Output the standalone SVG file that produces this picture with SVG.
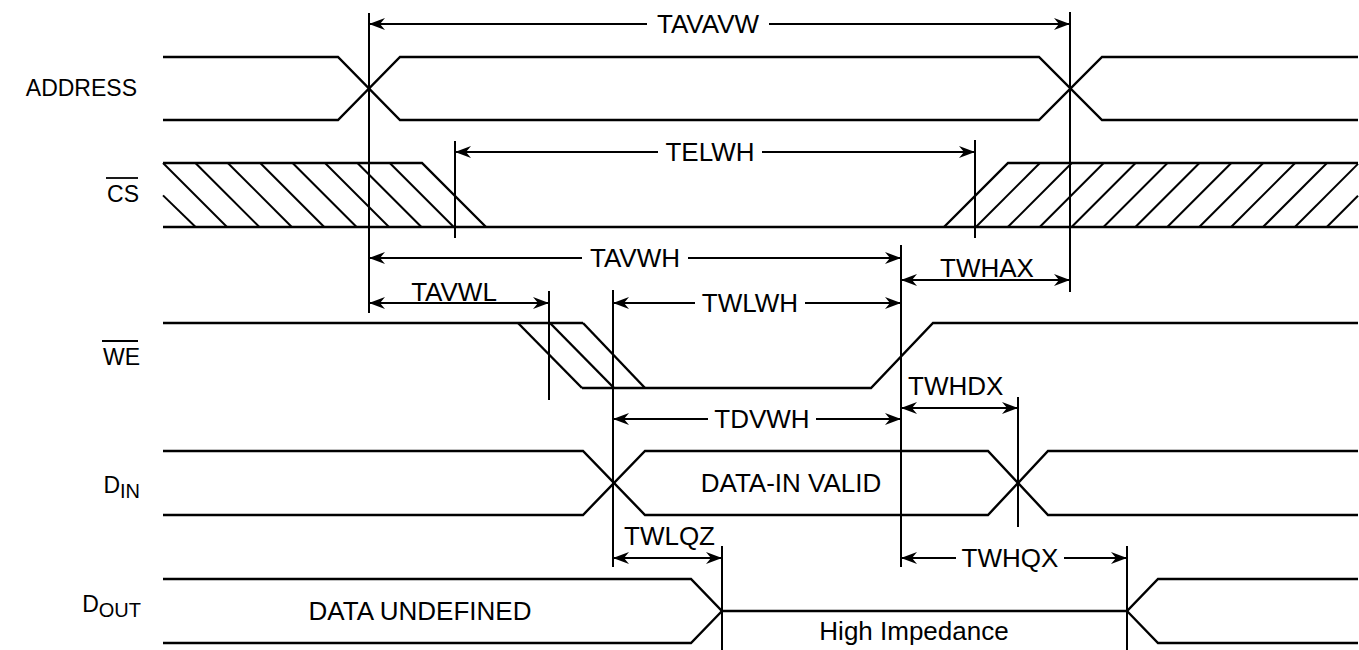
<svg xmlns="http://www.w3.org/2000/svg" width="1359" height="650" viewBox="0 0 1359 650">
<defs>
<style>
.sig{fill:none;stroke:#000;stroke-width:2.4;stroke-linejoin:miter}
.hat{fill:none;stroke:#000;stroke-width:2}
.vl{stroke:#000;stroke-width:2;fill:none}
.dim{stroke:#000;stroke-width:2;fill:none}
.a1{marker-start:url(#ah)}
.a2{marker-end:url(#ah)}
.lab{font-family:"Liberation Sans",Arial,Helvetica,sans-serif;font-size:26px;fill:#000}
.name{font-family:"Liberation Sans",Arial,Helvetica,sans-serif;font-size:23px;fill:#000}
.mid{text-anchor:middle}
.end{text-anchor:end}
</style>
<marker id="ah" viewBox="-17 -7 18 14" refX="0" refY="0" markerWidth="18" markerHeight="14" markerUnits="userSpaceOnUse" orient="auto-start-reverse">
<path d="M0,0 L-16,-6 L-11,0 L-16,6 Z" fill="#000"/>
</marker>
</defs>
<rect width="1359" height="650" fill="#fff"/>

<g id="sig-address">
<text class="name end" x="137" y="96">ADDRESS</text>
<path class="sig" d="M163,57 H338 L400,120 H1039 L1102,57 H1358"/>
<path class="sig" d="M163,120 H338 L400,57 H1039 L1102,120 H1358"/>
</g>

<g id="sig-cs">
<text class="name end" x="139" y="202">CS</text>
<line x1="106" y1="178" x2="138" y2="178" stroke="#000" stroke-width="1.8"/>
<path class="sig" d="M163,163 H422 L486,227"/>
<path class="sig" d="M163,227 H1358"/>
<path class="sig" d="M944,227 L1008,163 H1358"/>
<g class="hat">
<line x1="163" y1="195.4" x2="195.6" y2="227"/>
<line x1="163" y1="163" x2="227" y2="227"/>
<line x1="195.4" y1="163" x2="259.4" y2="227"/>
<line x1="227.8" y1="163" x2="291.8" y2="227"/>
<line x1="260.2" y1="163" x2="324.2" y2="227"/>
<line x1="292.6" y1="163" x2="356.6" y2="227"/>
<line x1="325" y1="163" x2="389" y2="227"/>
<line x1="357.4" y1="163" x2="421.4" y2="227"/>
<line x1="389.8" y1="163" x2="453.8" y2="227"/>
<line x1="1039.9" y1="163" x2="975.9" y2="227"/>
<line x1="1071.8" y1="163" x2="1007.8" y2="227"/>
<line x1="1103.7" y1="163" x2="1039.7" y2="227"/>
<line x1="1135.6" y1="163" x2="1071.6" y2="227"/>
<line x1="1167.5" y1="163" x2="1103.5" y2="227"/>
<line x1="1199.4" y1="163" x2="1135.4" y2="227"/>
<line x1="1231.3" y1="163" x2="1167.3" y2="227"/>
<line x1="1263.2" y1="163" x2="1199.2" y2="227"/>
<line x1="1295.1" y1="163" x2="1231.1" y2="227"/>
<line x1="1327" y1="163" x2="1263" y2="227"/>
<line x1="1358" y1="163.9" x2="1294.9" y2="227"/>
<line x1="1358" y1="195.8" x2="1326.8" y2="227"/>
</g>
</g>

<g id="sig-we">
<text class="name end" x="140" y="365">WE</text>
<line x1="102" y1="341" x2="138" y2="341" stroke="#000" stroke-width="1.8"/>
<path class="sig" d="M163,323 H583"/>
<path class="sig" d="M518,323 L582,388"/>
<path class="sig" d="M550,323 L614,388"/>
<path class="sig" d="M583,323 L645,388"/>
<path class="sig" d="M582,388 H871 L933,323 H1358"/>
</g>

<g id="sig-din">
<text class="name end" x="140" y="493">D<tspan font-size="20" dy="5">IN</tspan></text>
<path class="sig" d="M163,451 H583 L645,515 H988 L1048,451 H1358"/>
<path class="sig" d="M163,515 H583 L645,451 H988 L1048,515 H1358"/>
<text class="lab mid" x="791" y="492">DATA-IN VALID</text>
</g>

<g id="sig-dout">
<text class="name end" x="141" y="612">D<tspan font-size="20" dy="5">OUT</tspan></text>
<path class="sig" d="M163,579 H691 L722,611 H1127 L1158,579 H1358"/>
<path class="sig" d="M163,643 H691 L722,611"/>
<path class="sig" d="M1127,611 L1158,643 H1358"/>
<text class="lab mid" x="420" y="620">DATA UNDEFINED</text>
<text class="lab mid" x="914" y="640">High Impedance</text>
</g>

<g id="connectors">
<g id="ref-lines" class="vl">
<line x1="369" y1="13" x2="369" y2="313"/>
<line x1="1070" y1="12" x2="1070" y2="292"/>
<line x1="455" y1="141" x2="455" y2="238"/>
<line x1="975" y1="140" x2="975" y2="238"/>
<line x1="549" y1="291" x2="549" y2="400"/>
<line x1="613" y1="290" x2="613" y2="567"/>
<line x1="901" y1="245" x2="901" y2="567"/>
<line x1="1018" y1="397" x2="1018" y2="527"/>
<line x1="722" y1="546" x2="722" y2="650"/>
<line x1="1127" y1="546" x2="1127" y2="650"/>
</g>
<g id="t-tavavw">
<line class="dim a1" x1="369" y1="24" x2="647" y2="24"/>
<line class="dim a2" x1="769" y1="24" x2="1070" y2="24"/>
<text class="lab mid" x="708" y="33">TAVAVW</text>
</g>
<g id="t-telwh">
<line class="dim a1" x1="455" y1="152" x2="658" y2="152"/>
<line class="dim a2" x1="762" y1="152" x2="975" y2="152"/>
<text class="lab mid" x="710" y="161">TELWH</text>
</g>
<g id="t-tavwh">
<line class="dim a1" x1="369" y1="258" x2="582" y2="258"/>
<line class="dim a2" x1="688" y1="258" x2="901" y2="258"/>
<text class="lab mid" x="635" y="267">TAVWH</text>
</g>
<g id="t-twhax">
<line class="dim a1 a2" x1="901" y1="280" x2="1070" y2="280"/>
<text class="lab mid" x="987" y="277">TWHAX</text>
</g>
<g id="t-tavwl">
<line class="dim a1 a2" x1="369" y1="303" x2="549" y2="303"/>
<text class="lab mid" x="454" y="301">TAVWL</text>
</g>
<g id="t-twlwh">
<line class="dim a1" x1="613" y1="303" x2="695" y2="303"/>
<line class="dim a2" x1="805" y1="303" x2="901" y2="303"/>
<text class="lab mid" x="750" y="312">TWLWH</text>
</g>
<g id="t-twhdx">
<line class="dim a1 a2" x1="901" y1="408" x2="1018" y2="408"/>
<text class="lab" x="908" y="395">TWHDX</text>
</g>
<g id="t-tdvwh">
<line class="dim a1" x1="613" y1="419" x2="708" y2="419"/>
<line class="dim a2" x1="816" y1="419" x2="901" y2="419"/>
<text class="lab mid" x="762" y="428">TDVWH</text>
</g>
<g id="t-twlqz">
<line class="dim a1 a2" x1="613" y1="558" x2="722" y2="558"/>
<text class="lab" x="624" y="545">TWLQZ</text>
</g>
<g id="t-twhqx">
<line class="dim a1" x1="901" y1="558" x2="956" y2="558"/>
<line class="dim a2" x1="1064" y1="558" x2="1127" y2="558"/>
<text class="lab mid" x="1010" y="567">TWHQX</text>
</g>
</g>
</svg>
